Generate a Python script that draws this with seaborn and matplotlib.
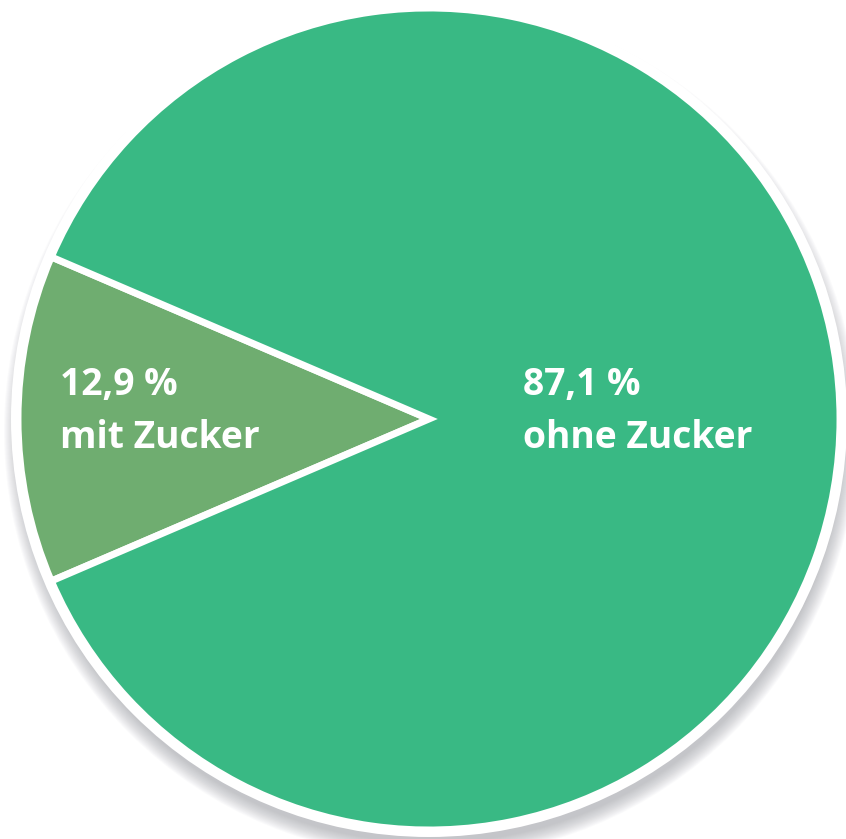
import matplotlib
matplotlib.use("Agg")
import matplotlib.pyplot as plt
from matplotlib.patches import Circle
import seaborn as sns

categories = ["mit Zucker", "ohne Zucker"]
values = [12.9, 87.1]
value_labels = ["12,9 %", "87,1 %"]
colors = ["#6FAD70", "#39B984"]

sns.set_theme(style="white")
plt.rcParams["font.family"] = ["Open Sans", "DejaVu Sans"]

W, H = 846, 839
fig = plt.figure(figsize=(W / 100, H / 100), dpi=100)
ax = fig.add_axes([0, 0, 1, 1])
ax.set_axis_off()

cx, cy, R = 429, 419, 411  # pixel geometry of the pie
ax.set_xlim(-cx / R, (W - cx) / R)
ax.set_ylim(-(H - cy) / R, cy / R)
ax.set_aspect("equal")

# soft drop shadow (mostly below the disc)
px = 1 / R
for i in range(16):
    ax.add_patch(Circle((2 * px, -12 * px), 1 + (16 - i) * px,
                        color="#8f9199", alpha=0.04, lw=0, zorder=0))
# white ring
ax.add_patch(Circle((0, 0), 1 + 7 * px, color="white", lw=0, zorder=1))

start = 180 - values[0] / 100 * 360 / 2
wedges, _ = ax.pie(values, colors=colors, startangle=start, counterclock=True,
                   radius=1, wedgeprops=dict(edgecolor="white", linewidth=5.0,
                                             joinstyle="miter"))
for w in wedges:
    w.set_zorder(2)

ax.set_xlim(-cx / R, (W - cx) / R)
ax.set_ylim(-(H - cy) / R, cy / R)

fs = 26.8
txt = dict(color="white", fontsize=fs, fontweight="bold", va="baseline",
           ha="left", zorder=5)
fig.text(60 / W, 1 - 395 / H, value_labels[0], **txt)
fig.text(60 / W, 1 - 448 / H, categories[0], **txt)
fig.text(523 / W, 1 - 395 / H, value_labels[1], **txt)
fig.text(523 / W, 1 - 448 / H, categories[1], **txt)

fig.savefig("out.png", dpi=100, facecolor="white")
